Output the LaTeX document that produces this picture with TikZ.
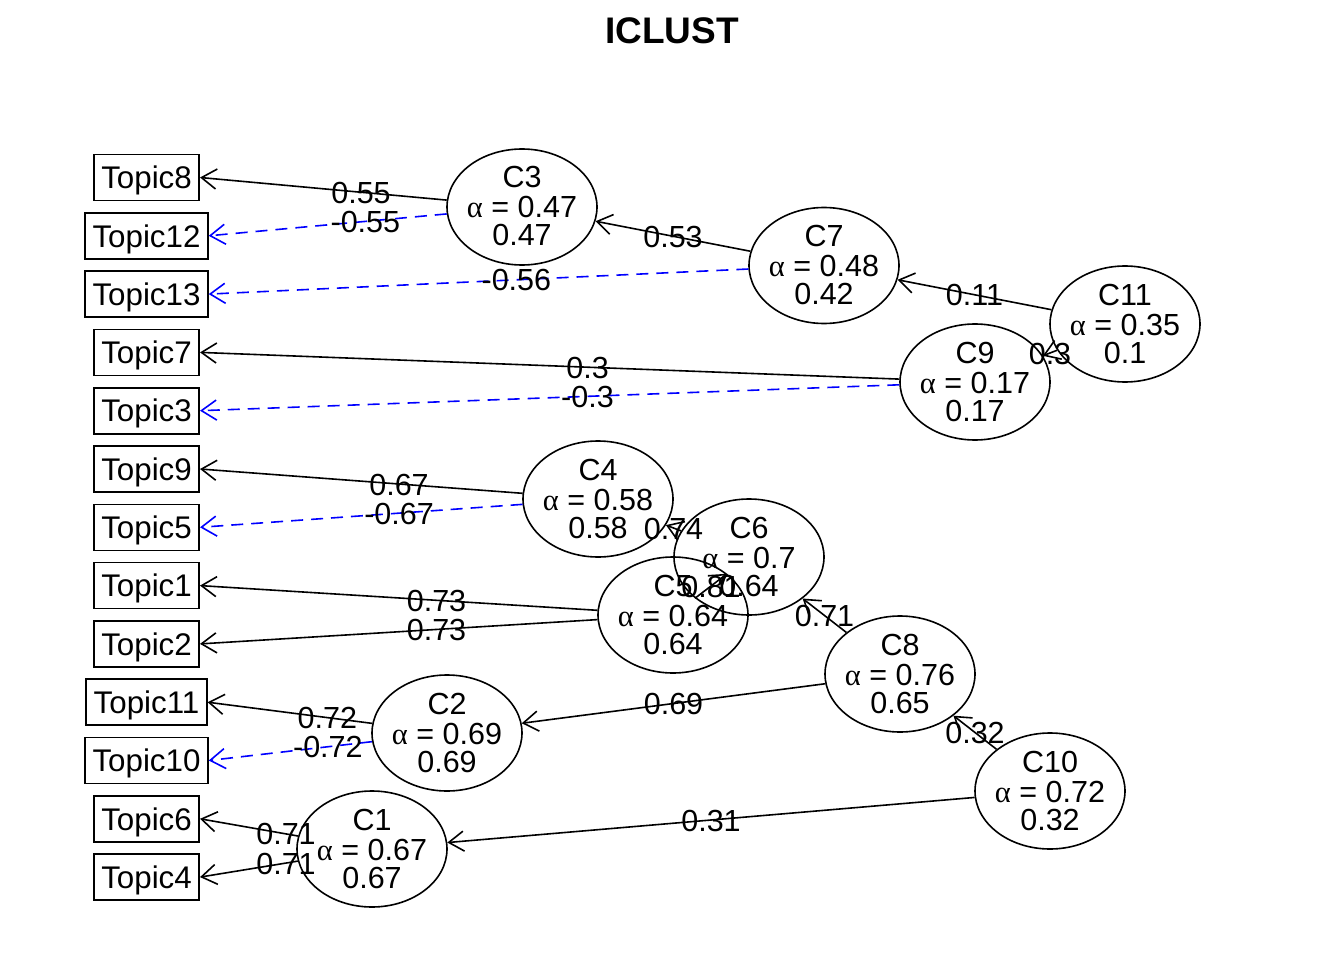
\documentclass[tikz,border=0pt]{standalone}
\usepackage{fontspec}
\setmainfont{Liberation Sans}
\newfontfamily\alphafont{Liberation Serif}
\usetikzlibrary{shapes.geometric,arrows.meta}
\newcommand\fs{\fontsize{30.5}{36}\selectfont}
\newcommand\fsbox{\fontsize{31.3}{36}\selectfont}
\tikzset{
  topicbox/.style={draw, line width=1.6pt, inner xsep=7.5pt, inner ysep=0pt,
    minimum height=46pt, text height=22.5pt, text depth=0pt, font=\fsbox},
  clusshape/.style={draw, ellipse, line width=1.6pt, minimum width=150pt,
    minimum height=116pt, inner sep=0pt},
  txt/.style={inner sep=0pt, text height=22pt, text depth=0pt, font=\fs},
  lbl/.style={midway, txt},
  posedge/.style={line width=1.6pt, -{Straight Barb[length=15pt,width=20pt]}},
  negedge/.style={posedge, blue, dash pattern=on 12pt off 8pt},
}
\newcommand\clusnode[5]{%
  \node[clusshape] (#1) at (#2,#3) {};
  \node[txt] at ([yshift=30pt]#1.center) {#1};
  \node[txt] at (#1.center) {{\alphafont α} = #4};
  \node[txt] at ([yshift=-28pt]#1.center) {#5};}
\newcommand\tlink[4]{%
  \draw[#1] (#2) -- (#3.east);
  \path (#2.center) -- (#3.east) node[lbl] {#4};}
\newcommand\clink[3]{%
  \draw[posedge] (#1) -- (#2);
  \path (#1.center) -- (#2.center) node[lbl] {#3};}
\begin{document}
\begin{tikzpicture}[x=1pt,y=-1pt]
\useasboundingbox (0,0) rectangle (1344,960);
\node[font=\fontsize{37}{40}\selectfont\bfseries, text height=26.5pt, text depth=0pt, inner sep=0pt] (title) at (672,30) {ICLUST};
% topics
\node[topicbox] (Topic8)  at (146.5,177.5) {Topic8};
\node[topicbox] (Topic12) at (146.5,235.8) {Topic12};
\node[topicbox] (Topic13) at (146.5,294.1) {Topic13};
\node[topicbox] (Topic7)  at (146.5,352.4) {Topic7};
\node[topicbox] (Topic3)  at (146.5,410.7) {Topic3};
\node[topicbox] (Topic9)  at (146.5,469.0) {Topic9};
\node[topicbox] (Topic5)  at (146.5,527.3) {Topic5};
\node[topicbox] (Topic1)  at (146.5,585.6) {Topic1};
\node[topicbox] (Topic2)  at (146.5,643.9) {Topic2};
\node[topicbox] (Topic11) at (146.5,702.2) {Topic11};
\node[topicbox] (Topic10) at (146.5,760.5) {Topic10};
\node[topicbox] (Topic6)  at (146.5,818.8) {Topic6};
\node[topicbox] (Topic4)  at (146.5,877.1) {Topic4};
% clusters
\clusnode{C3}{522}{207}{0.47}{0.47}
\clusnode{C7}{824}{265.5}{0.48}{0.42}
\clusnode{C11}{1125}{324}{0.35}{0.1}
\clusnode{C9}{975}{382}{0.17}{0.17}
\clusnode{C4}{598}{499}{0.58}{0.58}
\clusnode{C6}{749}{557}{0.7}{0.64}
\clusnode{C5}{673}{615}{0.64}{0.64}
\clusnode{C8}{900}{674}{0.76}{0.65}
\clusnode{C2}{447}{733}{0.69}{0.69}
\clusnode{C10}{1050}{791}{0.72}{0.32}
\clusnode{C1}{372}{849}{0.67}{0.67}
% edges
\tlink{posedge}{C3}{Topic8}{0.55}
\tlink{negedge}{C3}{Topic12}{-0.55}
\clink{C7}{C3}{0.53}
\tlink{negedge}{C7}{Topic13}{-0.56}
\clink{C11}{C7}{0.11}
\clink{C11}{C9}{0.3}
\tlink{posedge}{C9}{Topic7}{0.3}
\tlink{negedge}{C9}{Topic3}{-0.3}
\tlink{posedge}{C4}{Topic9}{0.67}
\tlink{negedge}{C4}{Topic5}{-0.67}
\clink{C6}{C4}{0.74}
\clink{C6}{C5}{0.81}
\tlink{posedge}{C5}{Topic1}{0.73}
\tlink{posedge}{C5}{Topic2}{0.73}
\clink{C8}{C6}{0.71}
\clink{C8}{C2}{0.69}
\tlink{posedge}{C2}{Topic11}{0.72}
\tlink{negedge}{C2}{Topic10}{-0.72}
\clink{C10}{C8}{0.32}
\clink{C10}{C1}{0.31}
\tlink{posedge}{C1}{Topic6}{0.71}
\tlink{posedge}{C1}{Topic4}{0.71}
\end{tikzpicture}
\end{document}
